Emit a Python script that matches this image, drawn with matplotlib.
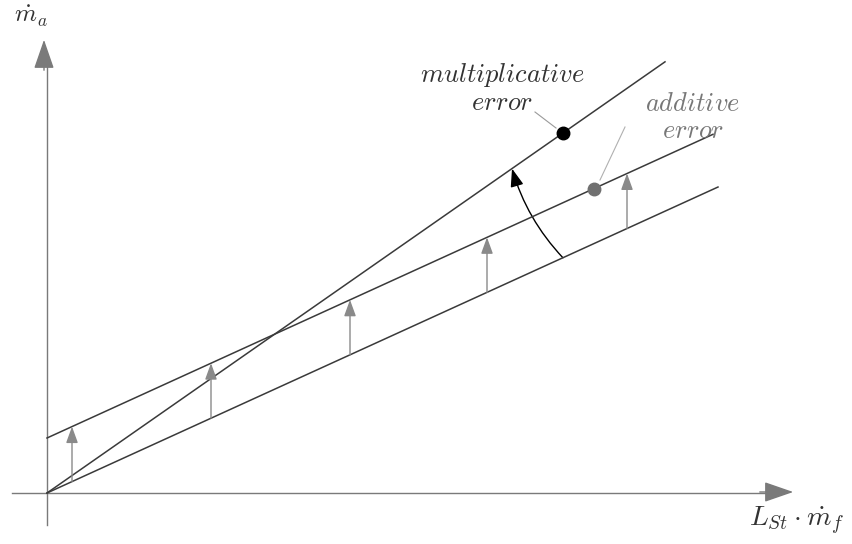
import numpy as np
import matplotlib.pyplot as plt
from matplotlib.patches import FancyArrowPatch

plt.rcParams['mathtext.fontset'] = 'cm'

# model: true line m_a = k * x, additive error shifts it, multiplicative error tilts it
k_true = 0.456
add_offset = 0.55
mult_factor = 1.53

x_end_true = 6.71
x_end_add = 6.66
x_end_mult = 6.18

# where the vertical shift arrows sit
arrow_x = [0.25, 1.64, 3.03, 4.40, 5.80]

# marked points on each error line
dot_mult_x = 5.16
dot_add_x = 5.47

# radius of the rotation arc around the origin
arc_r = 5.67

line_col = '#3a3a3a'
gray_col = '#8a8a8a'
axis_col = '#7a7a7a'

fig = plt.figure(figsize=(8.52, 5.44), dpi=100)
ax = fig.add_axes([0, 0, 1, 1])
ax.set_xlim(-0.47, 8.05)
ax.set_ylim(-0.51, 4.93)
ax.set_aspect('equal')
ax.axis('off')

# axes with arrow heads
ax.plot([0, 0], [-0.32, 4.3], color=axis_col, lw=1.0)
ax.annotate('', xy=(-0.03, 4.56), xytext=(-0.03, 4.2),
            arrowprops=dict(arrowstyle='-|>,head_length=1.3,head_width=0.45',
                            color=axis_col, lw=1.0, mutation_scale=14))
ax.plot([-0.35, 7.3], [0, 0], color=axis_col, lw=1.0)
ax.annotate('', xy=(7.49, 0.01), xytext=(7.1, 0.01),
            arrowprops=dict(arrowstyle='-|>,head_length=1.3,head_width=0.45',
                            color=axis_col, lw=1.0, mutation_scale=14))

# the three lines
xt = np.array([0, x_end_true])
ax.plot(xt, k_true * xt, color=line_col, lw=1.1)
xa = np.array([0, x_end_add])
ax.plot(xa, k_true * xa + add_offset, color=line_col, lw=1.1)
xm = np.array([0, x_end_mult])
ax.plot(xm, mult_factor * k_true * xm, color=line_col, lw=1.1)

# vertical arrows: additive shift
for xv in arrow_x:
    ax.annotate('', xy=(xv, k_true * xv + add_offset), xytext=(xv, k_true * xv),
                arrowprops=dict(arrowstyle='-|>,head_length=1.1,head_width=0.4',
                                color=gray_col, lw=1.0, mutation_scale=9,
                                shrinkA=0, shrinkB=0))

# rotation arc: multiplicative tilt
a0 = np.arctan(k_true)
a1 = np.arctan(mult_factor * k_true)
arc = FancyArrowPatch((arc_r * np.cos(a0), arc_r * np.sin(a0)),
                      (arc_r * np.cos(a1), arc_r * np.sin(a1)),
                      connectionstyle='arc3,rad=-0.12',
                      arrowstyle='-|>,head_length=1.1,head_width=0.4',
                      mutation_scale=10, color='black', lw=1.0,
                      shrinkA=0, shrinkB=0)
ax.add_patch(arc)

# marked points
ax.plot(dot_mult_x, mult_factor * k_true * dot_mult_x, 'o', color='black', ms=9)
ax.plot(dot_add_x, k_true * dot_add_x + add_offset, 'o', color='#707070', ms=9)

# labels with pointer lines
ax.plot([4.88, 5.09], [3.81, 3.65], color='#9a9a9a', lw=0.8)
ax.text(4.55, 4.05, r'$multiplicative$' + '\n' + r'$error$', ha='center', va='center',
        fontsize=19, color='#333333', linespacing=1.05)
ax.plot([5.78, 5.53], [3.66, 3.13], color='#b0b0b0', lw=0.8)
ax.text(6.46, 3.76, r'$additive$' + '\n' + r'$error$', ha='center', va='center',
        fontsize=19, color='#777777', linespacing=1.05)

ax.text(-0.16, 4.77, r'$\dot{m}_a$', ha='center', va='center', fontsize=18, color='#333333')
ax.text(7.5, -0.28, r'$L_{St}\cdot\dot{m}_f$', ha='center', va='center', fontsize=20,
        color='#333333')

fig.savefig('out.png', dpi=100)
